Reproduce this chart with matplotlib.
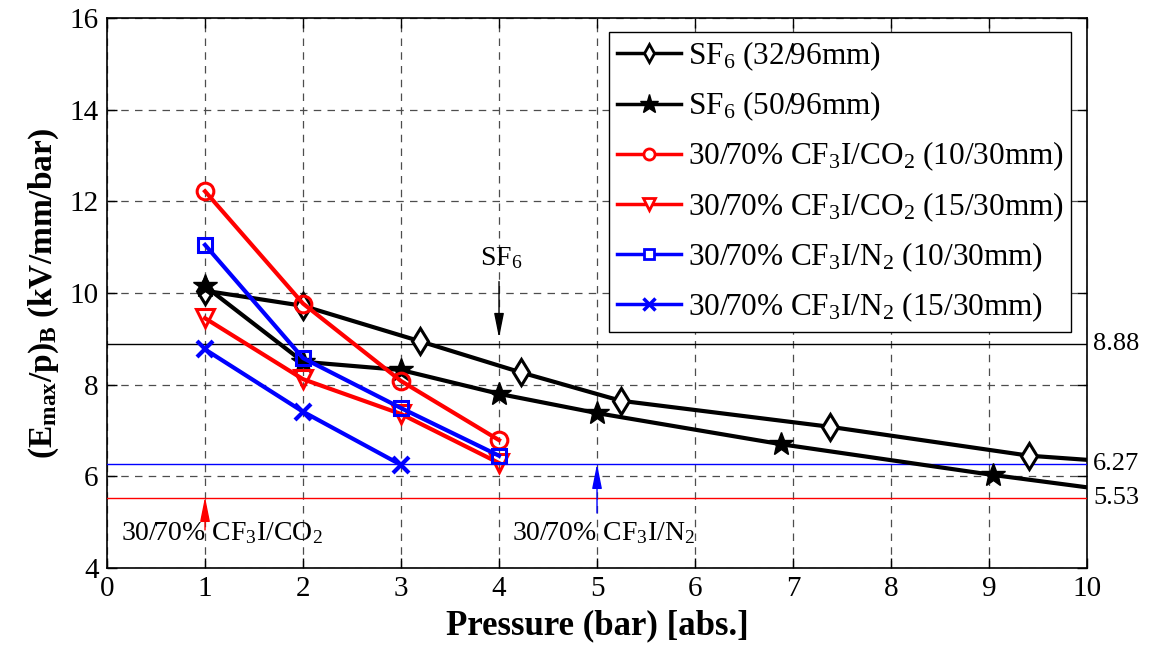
import matplotlib
matplotlib.use("Agg")
import matplotlib.pyplot as plt
from matplotlib.lines import Line2D
from matplotlib.transforms import blended_transform_factory

plt.rcParams['font.family'] = ['Liberation Serif', 'DejaVu Serif']
plt.rcParams['mathtext.default'] = 'regular'

# Breakdown field strength per pressure vs. absolute pressure
sf6_32_x = [1, 2, 3.19, 4.22, 5.24, 7.38, 9.41, 10.0]
sf6_32_y = [10.05, 9.72, 8.95, 8.27, 7.65, 7.08, 6.45, 6.36]
sf6_50_x = [1, 2, 3, 4, 5, 6.88, 9.04, 10.0]
sf6_50_y = [10.15, 8.50, 8.32, 7.80, 7.38, 6.70, 6.03, 5.76]
mix_x = [1, 2, 3, 4]
co2_10_y = [12.22, 9.77, 8.08, 6.79]
co2_15_y = [9.45, 8.12, 7.36, 6.29]
n2_10_y = [11.05, 8.58, 7.49, 6.45]
n2_15_x = [1, 2, 3]
n2_15_y = [8.77, 7.41, 6.25]

labels = [
    'SF$_6$ (32/96mm)',
    'SF$_6$ (50/96mm)',
    '30/70% CF$_3$I/CO$_2$ (10/30mm)',
    '30/70% CF$_3$I/CO$_2$ (15/30mm)',
    '30/70% CF$_3$I/N$_2$ (10/30mm)',
    '30/70% CF$_3$I/N$_2$ (15/30mm)',
]

# Reference levels (SF6 at 4 bar, mixtures)
ref_sf6 = 8.88
ref_n2 = 6.27
ref_co2 = 5.53

x_ticks = list(range(0, 11))
y_ticks = list(range(4, 17, 2))

fig = plt.figure(figsize=(11.52, 6.45), dpi=100)
ax = fig.add_axes([0.0929, 0.1194, 0.8507, 0.8526])

lw = 3.0
mew = 2.2
ax.plot(sf6_32_x, sf6_32_y, color='black', lw=lw, marker='d', ms=13,
        mfc='white', mec='black', mew=mew, markevery=slice(0, -1), zorder=5)
ax.plot(sf6_50_x, sf6_50_y, color='black', lw=lw, marker='*', ms=18,
        mfc='black', mec='black', mew=1, markevery=slice(0, -1), zorder=5)
ax.plot(mix_x, co2_10_y, color='red', lw=lw, marker='o', ms=12,
        mfc='none', mec='red', mew=mew, zorder=6)
ax.plot(mix_x, co2_15_y, color='red', lw=lw, marker='v', ms=13,
        mfc='none', mec='red', mew=mew, zorder=6)
ax.plot(mix_x, n2_10_y, color='blue', lw=lw, marker='s', ms=10,
        mfc='none', mec='blue', mew=mew, zorder=6)
ax.plot(n2_15_x, n2_15_y, color='blue', lw=lw, marker='x', ms=12,
        mfc='none', mec='blue', mew=3, zorder=6)

# Thin reference lines
ax.axhline(ref_sf6, color='black', lw=1.0, zorder=3)
ax.axhline(ref_n2, color='blue', lw=1.0, zorder=3)
ax.axhline(ref_co2, color='red', lw=1.0, zorder=3)

trans = blended_transform_factory(ax.transAxes, ax.transData)
for val in (ref_sf6, ref_n2, ref_co2):
    ax.text(1.006, val, f'{val:.2f}', transform=trans, ha='left',
            va='center', fontsize=19)

# Arrow annotations
head = dict(arrowstyle='-|>,head_length=1.5,head_width=0.3', lw=1.0,
            shrinkA=0, shrinkB=0)
ax.annotate('', xy=(4, 9.02), xytext=(4, 10.25),
            arrowprops=dict(color='black', **head), zorder=7)
ax.text(4.02, 10.6, 'SF$_6$', ha='center', va='baseline', fontsize=20)
ax.annotate('', xy=(5, 6.27), xytext=(5, 5.2),
            arrowprops=dict(color='blue', **head), zorder=7)
ax.annotate('', xy=(1, 5.55), xytext=(1, 4.83),
            arrowprops=dict(color='red', **head), zorder=7)
ax.text(0.14, 4.6, '30/70% CF$_3$I/CO$_2$', ha='left', va='baseline',
        fontsize=20)
ax.text(4.13, 4.6, '30/70% CF$_3$I/N$_2$', ha='left', va='baseline',
        fontsize=20)

ax.set_xlim(0, 10)
ax.set_ylim(4, 16)
ax.set_xticks(x_ticks)
ax.set_yticks(y_ticks)
ax.tick_params(direction='in', top=True, right=True, length=7, width=1,
               labelsize=21, pad=6)
ax.grid(True, color='0.3', lw=0.9, linestyle=(0, (6, 5)))
ax.set_axisbelow(True)
for s in ax.spines.values():
    s.set_linewidth(1.2)

ax.set_xlabel('Pressure (bar) [abs.]', fontsize=25, fontweight='bold',
              labelpad=5)
ax.set_ylabel('(E$_{max}$/p)$_B$ (kV/mm/bar)', fontsize=24,
              fontweight='bold', labelpad=6)

handles = [
    Line2D([], [], color='black', lw=2.5, marker='d', ms=9, mfc='white', mec='black', mew=2),
    Line2D([], [], color='black', lw=2.5, marker='*', ms=14, mfc='black', mec='black'),
    Line2D([], [], color='red', lw=2.5, marker='o', ms=8, mfc='white', mec='red', mew=2),
    Line2D([], [], color='red', lw=2.5, marker='v', ms=9, mfc='white', mec='red', mew=2),
    Line2D([], [], color='blue', lw=2.5, marker='s', ms=7, mfc='white', mec='blue', mew=2),
    Line2D([], [], color='blue', lw=2.5, marker='x', ms=9, mfc='white', mec='blue', mew=2.5),
]
leg = ax.legend(handles, labels, loc='upper right', fontsize=22.5,
                frameon=True, fancybox=False, edgecolor='black',
                framealpha=1, handlelength=2.05, handletextpad=0.2,
                labelspacing=0.53, borderpad=0.25, borderaxespad=0,
                bbox_to_anchor=(0.984, 0.975))
leg.get_frame().set_linewidth(1.0)
leg.set_zorder(10)

fig.savefig('out.png', dpi=100)
